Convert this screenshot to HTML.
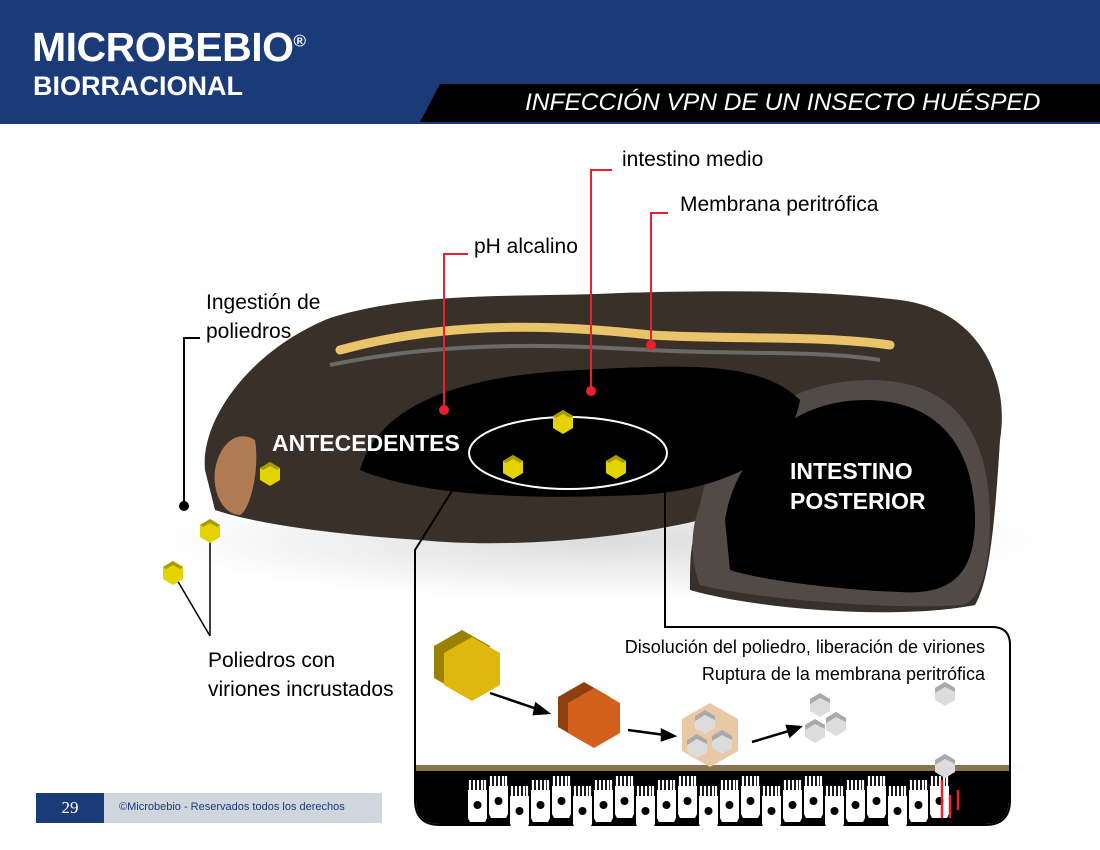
<!DOCTYPE html>
<html><head><meta charset="utf-8"><style>
body{margin:0;width:1100px;height:850px;overflow:hidden;background:#fff;font-family:"Liberation Sans",sans-serif;position:relative}
.t{position:absolute;white-space:nowrap}
</style></head><body>
<svg width="1100" height="850" style="position:absolute;left:0;top:0">
<defs>
<g id="hx"><polygon points="0,-12 10,-6 10,6 0,12 -10,6 -10,-6" fill="#e3d300"/><polygon points="0,-12 10,-6 7,-4 0,-8 -7,-4 -10,-6" fill="#a99a00"/></g>
<g id="gh"><polygon points="0,-12 10,-6 10,6 0,12 -10,6 -10,-6" fill="#dcdcdc"/><polygon points="0,-12 10,-6 10,-2 0,-7 -10,-1 -10,-6" fill="#a9a9a9"/></g>
<g id="cell"><path d="M0,10 h19 v28 l-2,4 h-15 l-2,-4z" fill="#fff"/><path d="M2,10 v-10 M6,10 v-10 M10,10 v-10 M14,10 v-10 M17,10 v-10" stroke="#fff" stroke-width="2.2"/><circle cx="9.5" cy="25" r="4" fill="#000"/></g>
<radialGradient id="sh" cx="0.5" cy="0.5" r="0.5"><stop offset="0" stop-color="#ccc"/><stop offset="1" stop-color="#fff"/></radialGradient>
</defs>
<rect x="0" y="0" width="1100" height="124" fill="#1b3a78"/>
<polygon points="440,84 1100,84 1100,122 420,122" fill="#000"/>
<ellipse cx="600" cy="540" rx="450" ry="60" fill="url(#sh)" opacity="0.7"/>
<!-- body -->
<path d="M205,470 C200,420 250,350 330,318 C420,290 520,298 620,293 C720,290 820,290 900,300 C980,310 1010,380 1000,440 C995,520 990,580 975,605 C900,620 760,610 690,590 C690,560 690,540 700,520 C640,535 520,550 420,540 C340,535 260,525 215,510 Z" fill="#3a302a"/>
<path d="M340,350 C450,320 560,325 650,335 C740,340 820,335 890,345" stroke="#e9c46a" stroke-width="9" fill="none" stroke-linecap="round"/>
<path d="M330,365 C450,340 560,345 650,350 C740,355 820,350 880,360" stroke="#6b6a66" stroke-width="4" fill="none"/>
<path d="M700,505 C710,440 780,380 870,380 C960,380 990,440 990,520 C990,580 975,605 960,605 C900,610 760,600 700,585 C690,560 690,530 700,505Z" fill="#524a46"/>
<path d="M725,520 C735,455 790,400 865,400 C945,400 975,455 975,520 C975,580 945,595 900,592 C840,590 760,580 730,570 Z" fill="#000"/>
<path d="M360,470 C380,400 470,375 580,370 C680,365 760,360 800,400 C790,460 720,490 640,495 C520,500 420,495 360,470Z" fill="#000"/>
<path d="M215,470 C220,440 240,430 255,440 C260,470 250,510 240,515 C225,515 212,495 215,470Z" fill="#b07a55"/>
<ellipse cx="568" cy="453" rx="99" ry="36" fill="none" stroke="#fff" stroke-width="2"/>
<!-- callout lines -->
<path d="M184,506 V338 H200" stroke="#000" stroke-width="2" fill="none"/>
<circle cx="184" cy="506" r="5" fill="#000"/>
<path d="M444,410 V254 H468" stroke="#e8212c" stroke-width="2" fill="none"/><circle cx="444" cy="410" r="5" fill="#e8212c"/>
<path d="M591,391 V170 H612" stroke="#e8212c" stroke-width="2" fill="none"/><circle cx="591" cy="391" r="5" fill="#e8212c"/>
<path d="M651,345 V213 H668" stroke="#e8212c" stroke-width="2" fill="none"/><circle cx="651" cy="345" r="5" fill="#e8212c"/>
<path d="M210,531 V636 M173,573 L210,636" stroke="#000" stroke-width="1.5" fill="none"/>
<use href="#hx" x="270" y="474"/><use href="#hx" x="210" y="531"/><use href="#hx" x="173" y="573"/>
<use href="#hx" x="563" y="422"/><use href="#hx" x="513" y="467"/><use href="#hx" x="616" y="467"/>
<!-- panel -->
<path d="M416,627 H992 Q1009,627 1009,645 V800 Q1009,824 985,824 H440 Q416,824 416,800Z" fill="#fff"/>
<path d="M462,475 L415,550 V800 Q415,825 440,825 H985 Q1010,825 1010,800 V645 Q1010,627 992,627 H665 V478" stroke="#000" stroke-width="2" fill="none"/>
<path d="M416,770 H1009 V800 Q1009,824 985,824 H440 Q416,824 416,800Z" fill="#000"/>
<rect x="416" y="765" width="593" height="6" fill="#8b7550"/>
<g>
<use href="#cell" x="468" y="780"/><use href="#cell" x="489" y="776"/><use href="#cell" x="510" y="786"/><use href="#cell" x="531" y="780"/><use href="#cell" x="552" y="776"/><use href="#cell" x="573" y="786"/><use href="#cell" x="594" y="780"/><use href="#cell" x="615" y="776"/><use href="#cell" x="636" y="786"/><use href="#cell" x="657" y="780"/><use href="#cell" x="678" y="776"/><use href="#cell" x="699" y="786"/><use href="#cell" x="720" y="780"/><use href="#cell" x="741" y="776"/><use href="#cell" x="762" y="786"/><use href="#cell" x="783" y="780"/><use href="#cell" x="804" y="776"/><use href="#cell" x="825" y="786"/><use href="#cell" x="846" y="780"/><use href="#cell" x="867" y="776"/><use href="#cell" x="888" y="786"/><use href="#cell" x="909" y="780"/><use href="#cell" x="930" y="776"/>
</g>
<path d="M942,780 V818 M950,795 V818 M958,790 V810" stroke="#e8212c" stroke-width="2.5"/>
<!-- big hexes -->
<polygon points="462,630 490,646 490,678 462,694 434,678 434,646" fill="#9a8200"/>
<polygon points="472,637 500,653 500,685 472,701 444,685 444,653" fill="#e0b70e"/>
<polygon points="584,682 610,697 610,727 584,742 558,727 558,697" fill="#8f3e0e"/>
<polygon points="594,688 620,703 620,733 594,748 568,733 568,703" fill="#d35f1c"/>
<polygon points="710,703 738,719 738,751 710,767 682,751 682,719" fill="#e8c9a4"/>
<use href="#gh" x="705" y="722"/><use href="#gh" x="697" y="746"/><use href="#gh" x="722" y="742"/>
<use href="#gh" x="820" y="705"/><use href="#gh" x="836" y="724"/><use href="#gh" x="815" y="731"/>
<use href="#gh" x="945" y="694"/><use href="#gh" x="945" y="766"/>
<g stroke="#000" stroke-width="2.5" fill="#000">
<path d="M490,693 L540,710"/><polygon points="548,713 536,704 534,714"/>
<path d="M628,730 L665,735"/><polygon points="674,736 662,730 662,740"/>
<path d="M752,742 L792,730"/><polygon points="800,727 787,726 790,736"/>
</g>
<!-- footer -->
<rect x="36" y="793" width="68" height="30" fill="#1b3a78"/>
<rect x="104" y="793" width="278" height="30" fill="#d0d6dd"/>
</svg>
<div class="t" style="left:32px;top:24px;font-size:41px;font-weight:bold;color:#fff;letter-spacing:-0.5px">MICROBEBIO<sup style="font-size:17px">®</sup></div>
<div class="t" style="left:33px;top:71px;font-size:27px;font-weight:bold;color:#fff">BIORRACIONAL</div>
<div class="t" style="left:525px;top:89px;font-size:24.5px;font-style:italic;color:#fff">INFECCIÓN VPN DE UN INSECTO HUÉSPED</div>
<div class="t" style="left:622px;top:148px;font-size:21px">intestino medio</div>
<div class="t" style="left:680px;top:193px;font-size:21px">Membrana peritrófica</div>
<div class="t" style="left:474px;top:235px;font-size:21px">pH alcalino</div>
<div class="t" style="left:206px;top:288px;font-size:21px;line-height:29px">Ingestión de<br>poliedros</div>
<div class="t" style="left:272px;top:430px;font-size:23px;font-weight:bold;color:#fff">ANTECEDENTES</div>
<div class="t" style="left:790px;top:456px;font-size:23px;font-weight:bold;color:#fff;line-height:30px">INTESTINO<br>POSTERIOR</div>
<div class="t" style="left:208px;top:646px;font-size:21px;line-height:29px">Poliedros con<br>viriones incrustados</div>
<div class="t" style="left:560px;top:634px;width:425px;text-align:right;font-size:18px;line-height:27px">Disolución del poliedro, liberación de viriones<br>Ruptura de la membrana peritrófica</div>
<div class="t" style="left:36px;top:798px;width:68px;text-align:center;font-size:17px;color:#fff;font-family:'Liberation Serif',serif">29</div>
<div class="t" style="left:119px;top:801px;font-size:11px;color:#1b3a78">©Microbebio - Reservados todos los derechos</div>
</body></html>
